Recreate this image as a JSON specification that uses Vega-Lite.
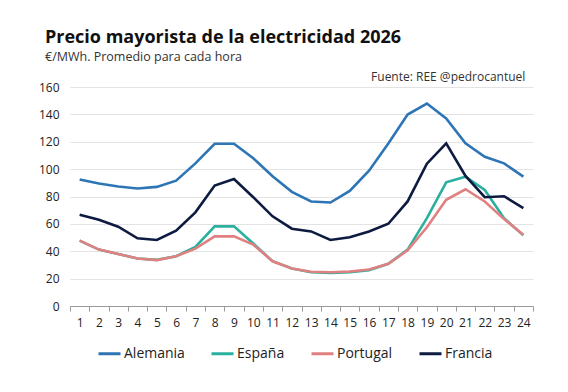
{
  "$schema": "https://vega.github.io/schema/vega-lite/v6.json",
  "width": 463,
  "height": 219,
  "padding": {"left": 38, "top": 28, "right": 30, "bottom": 5},
  "background": "white",
  "config": {
    "font": "Open Sans",
    "view": {"stroke": null}
  },
  "title": {
    "text": "Precio mayorista de la electricidad 2026",
    "subtitle": "€/MWh. Promedio para cada hora",
    "anchor": "start",
    "frame": "group",
    "fontSize": 18,
    "fontWeight": "bold",
    "color": "#111111",
    "subtitleFontSize": 12.5,
    "subtitleColor": "#333333",
    "subtitlePadding": 4,
    "offset": 8,
    "dx": -25
  },
  "data": {
    "values": [
      {"h": 1, "Alemania": 92.4, "España": 47.8, "Portugal": 47.8, "Francia": 66.7},
      {"h": 2, "Alemania": 89.5, "España": 41.2, "Portugal": 41.2, "Francia": 63.0},
      {"h": 3, "Alemania": 87.3, "España": 38.0, "Portugal": 38.0, "Francia": 57.9},
      {"h": 4, "Alemania": 85.8, "España": 34.7, "Portugal": 34.7, "Francia": 49.5},
      {"h": 5, "Alemania": 87.0, "España": 33.7, "Portugal": 33.5, "Francia": 48.2},
      {"h": 6, "Alemania": 91.6, "España": 36.4, "Portugal": 36.4, "Francia": 55.0},
      {"h": 7, "Alemania": 104.2, "España": 43.2, "Portugal": 41.9, "Francia": 68.4},
      {"h": 8, "Alemania": 118.5, "España": 58.2, "Portugal": 50.9, "Francia": 88.0},
      {"h": 9, "Alemania": 118.5, "España": 58.2, "Portugal": 50.9, "Francia": 92.8},
      {"h": 10, "Alemania": 107.9, "España": 45.6, "Portugal": 44.8, "Francia": 79.5},
      {"h": 11, "Alemania": 94.8, "España": 32.7, "Portugal": 32.7, "Francia": 65.5},
      {"h": 12, "Alemania": 83.4, "España": 27.4, "Portugal": 27.4, "Francia": 56.5},
      {"h": 13, "Alemania": 76.4, "España": 24.7, "Portugal": 25.0, "Francia": 54.5},
      {"h": 14, "Alemania": 75.6, "España": 24.2, "Portugal": 24.7, "Francia": 48.2},
      {"h": 15, "Alemania": 84.1, "España": 24.7, "Portugal": 25.2, "Francia": 50.2},
      {"h": 16, "Alemania": 98.9, "España": 26.2, "Portugal": 26.7, "Francia": 54.5},
      {"h": 17, "Alemania": 118.8, "España": 30.8, "Portugal": 30.8, "Francia": 60.1},
      {"h": 18, "Alemania": 139.9, "España": 41.2, "Portugal": 40.7, "Francia": 76.4},
      {"h": 19, "Alemania": 147.9, "España": 64.2, "Portugal": 57.5, "Francia": 104.0},
      {"h": 20, "Alemania": 137.0, "España": 90.4, "Portugal": 77.6, "Francia": 118.8},
      {"h": 21, "Alemania": 118.8, "España": 94.5, "Portugal": 85.3, "Francia": 95.0},
      {"h": 22, "Alemania": 109.0, "España": 84.8, "Portugal": 76.4, "Francia": 79.5},
      {"h": 23, "Alemania": 104.2, "España": 64.2, "Portugal": 63.5, "Francia": 80.2},
      {"h": 24, "Alemania": 94.5, "España": 51.6, "Portugal": 52.1, "Francia": 71.5}
    ]
  },
  "encoding": {
    "x": {
      "field": "h", "type": "ordinal", "bandPosition": 0.5,
      "scale": {"type": "band", "paddingInner": 0, "paddingOuter": 0},
      "axis": {
        "title": null, "labelAngle": 0, "labelFontSize": 12, "labelColor": "#222222",
        "domainColor": "#999999", "tickColor": "#999999", "tickBand": "extent",
        "tickSize": 5, "labelPadding": 6
      }
    },
    "y": {
      "field": "v", "type": "quantitative",
      "scale": {"domain": [0, 160]},
      "axis": {
        "title": null, "values": [0, 20, 40, 60, 80, 100, 120, 140, 160],
        "labelOverlap": false,
        "domain": false, "ticks": false, "labelFontSize": 12, "labelColor": "#222222",
        "gridColor": "#e3e3e3", "labelPadding": 11
      }
    }
  },
  "layer": [
    {
      "transform": [{"fold": ["Alemania", "España", "Portugal", "Francia"], "as": ["pais", "v"]}],
      "mark": {"type": "line", "strokeWidth": 2.6, "strokeJoin": "miter"},
      "encoding": {
        "color": {
          "field": "pais", "type": "nominal",
          "scale": {
            "domain": ["Alemania", "España", "Portugal", "Francia"],
            "range": ["#2e75b6", "#2bb0a0", "#e08080", "#0e1b40"]
          },
          "legend": {
            "title": null, "orient": "none", "direction": "horizontal",
            "legendX": 27, "legendY": 254,
            "symbolType": "stroke", "symbolStrokeWidth": 3, "symbolSize": 484,
            "labelFontSize": 14, "labelColor": "#222222", "columnPadding": 20,
            "labelOffset": 2
          }
        },
        "order": {"field": "h"}
      }
    },
    {
      "data": {"values": [{"h": 24, "v": 160, "t": "Fuente: REE @pedrocantuel"}]},
      "mark": {"type": "text", "align": "right", "baseline": "bottom", "dy": -3, "dx": 2, "fontSize": 12, "color": "#333333"},
      "encoding": {
        "text": {"field": "t"}
      }
    }
  ]
}
